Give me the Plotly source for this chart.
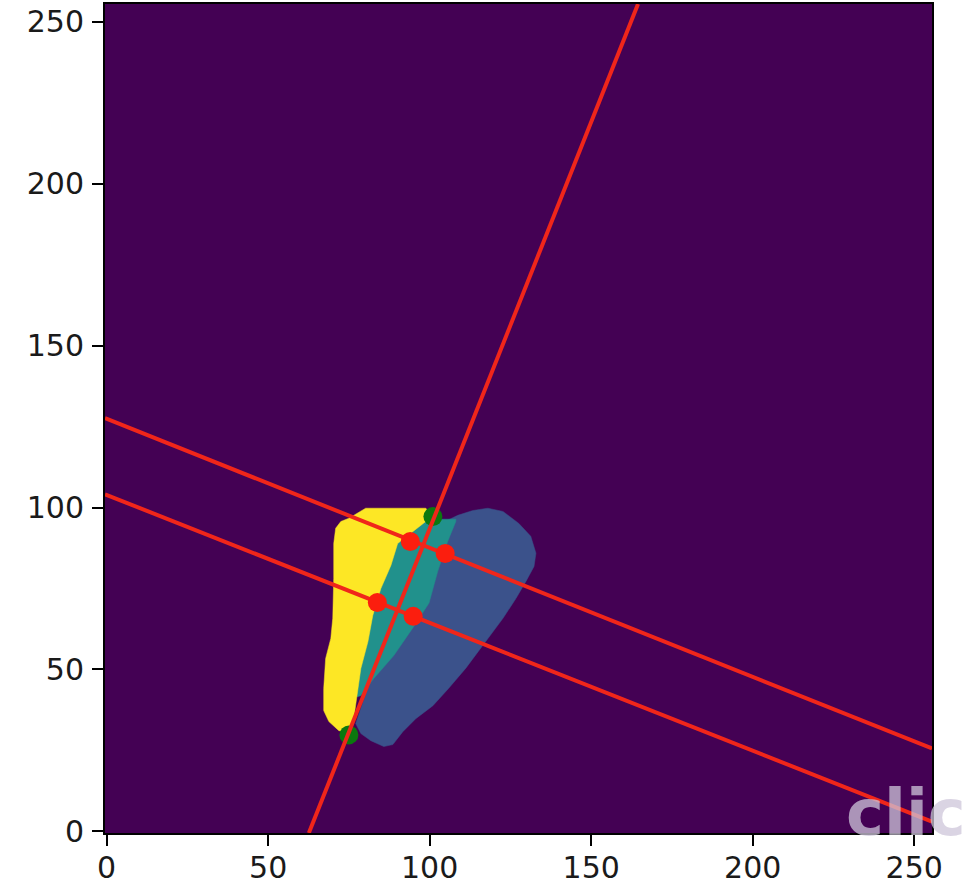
import plotly.graph_objects as go

# ---- data (image coordinates, origin lower-left) ----
yellow_x = [75.0, 80.2, 98.8, 100.4, 98.8, 90.1, 88.0, 84.9, 82.4, 80.9, 78.7, 77.8, 77.1, 76.2,
            74.0, 71.9, 68.8, 67.2, 67.2, 67.8, 69.4, 70.0, 70.3, 70.3, 70.9, 72.5]
yellow_y = [96.7, 99.8, 99.8, 97.9, 95.7, 88.9, 82.1, 75.0, 66.7, 58.6, 50.3, 44.1, 37.9, 32.7,
            30.8, 31.1, 33.9, 37.3, 44.1, 53.4, 59.6, 65.8, 78.1, 88.9, 93.6, 95.7]

teal_x = [98.2, 108.1, 108.1, 105.6, 102.5, 99.8, 95.1, 88.9, 82.7, 78.7, 75.6, 80.0, 86.4, 97.3]
teal_y = [96.4, 96.4, 95.7, 89.6, 80.3, 70.5, 63.3, 54.3, 47.2, 41.9, 41.0, 70.0, 90.5, 97.3]

blue_x = [108.7, 113.4, 118.0, 122.7, 127.6, 131.3, 132.9, 132.3, 129.8, 126.7, 122.7, 116.5,
          111.2, 105.9, 101.0, 95.7, 91.7, 88.6, 85.8, 81.8, 78.7, 77.1, 81.8, 103.5]
blue_y = [97.6, 99.1, 99.8, 98.8, 95.1, 91.1, 85.9, 81.8, 77.2, 71.9, 65.8, 57.5,
          50.4, 44.2, 38.8, 34.8, 30.8, 26.8, 26.2, 28.0, 30.2, 33.3, 47.2, 95.1]

# red lines: (x0, y0, x1, y1)
line1 = [62.6, -0.5, 164.5, 255.5]
line2 = [-0.5, 127.6, 255.5, 25.6]
line3 = [-0.5, 104.1, 255.5, 3.0]

green_x = [101.0, 75.0]
green_y = [97.2, 29.8]

red_x = [94.0, 104.8, 83.8, 94.9]
red_y = [89.5, 85.8, 70.7, 66.4]

ticks = [0, 50, 100, 150, 200, 250]

BG = "#440154"
fig = go.Figure()

for xs, ys, col in [(blue_x, blue_y, "#3b528b"), (teal_x, teal_y, "#21918c"), (yellow_x, yellow_y, "#fde725")]:
    fig.add_trace(go.Scatter(x=xs + [xs[0]], y=ys + [ys[0]], fill="toself", fillcolor=col,
                             mode="lines", line=dict(width=0.5, color=col), hoverinfo="skip"))

fig.add_trace(go.Scatter(x=green_x, y=green_y, mode="markers",
                         marker=dict(size=19, color="#0b780f"), cliponaxis=False))

for ln in [line1, line2, line3]:
    fig.add_trace(go.Scatter(x=[ln[0], ln[2]], y=[ln[1], ln[3]], mode="lines",
                             line=dict(color="#f0261a", width=4)))

fig.add_trace(go.Scatter(x=red_x, y=red_y, mode="markers",
                         marker=dict(size=19, color="#fb1e0e")))

axis_common = dict(
    range=[-0.5, 255.5], tickvals=ticks, ticktext=[str(t) for t in ticks],
    showgrid=False, zeroline=False, showline=True, linecolor="black", linewidth=2,
    mirror=True, ticks="outside", ticklen=11, tickwidth=2, tickcolor="black",
    tickfont=dict(family="DejaVu Sans", size=30, color="#1a1a1a"),
)

fig.update_layout(
    width=964, height=882,
    margin=dict(l=105, r=32, t=4, b=49, autoexpand=False),
    plot_bgcolor=BG, paper_bgcolor="white",
    showlegend=False,
    xaxis=dict(**axis_common, ticklabelstandoff=-4),
    yaxis=dict(**axis_common, ticklabelstandoff=2),
)

fig.add_annotation(text="<b>clic</b>", xref="paper", yref="paper", x=0.893, y=0.024,
                   xanchor="left", yanchor="middle", showarrow=False,
                   font=dict(family="DejaVu Sans", size=64, color="rgba(205,198,218,0.75)"))

fig.write_html("out.html", config={"displayModeBar": False},
               post_script="document.body.style.margin='0';document.body.style.overflow='hidden';")
